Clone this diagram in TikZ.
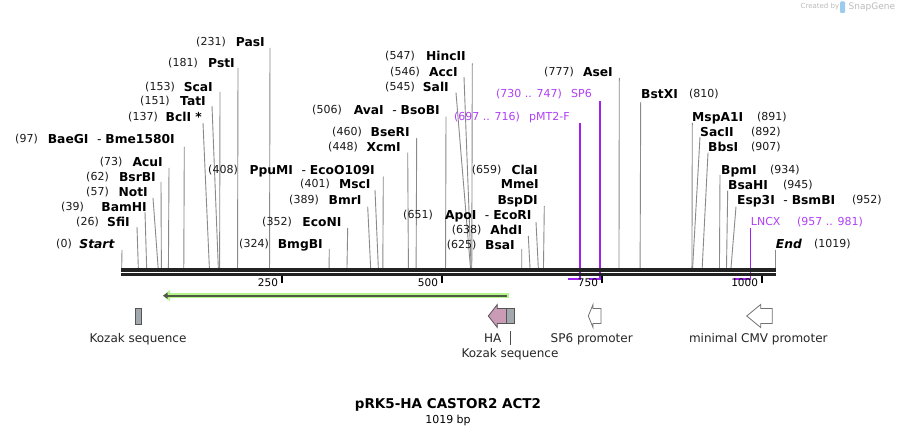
\documentclass[tikz,border=0pt]{standalone}
\usepackage{fontspec}
\setmainfont{DejaVu Sans}
\usetikzlibrary{arrows.meta}
\definecolor{cutc}{HTML}{8A8A8A}
\definecolor{primc}{HTML}{A020F0}
\definecolor{primt}{HTML}{B040F5}
\definecolor{glowc}{HTML}{B4F58C}
\definecolor{darkl}{HTML}{4E5A46}
\definecolor{hac}{HTML}{C99BB5}
\definecolor{kzc}{HTML}{A3A8AE}
\definecolor{outc}{HTML}{555555}
\definecolor{barc}{HTML}{222222}
\definecolor{logoc}{HTML}{BBBBBB}
\definecolor{logob}{HTML}{9CCBF0}
% left-hand site: id, y, num east x, num, name east x, name, top x, top y, bp
\newcommand\siteL[9]{%
  \node[num,anchor=east] (#1n) at (#3,#2) {#4};
  \node[enz,anchor=east] (#1e) at (#5,#2) {#6};
  \coordinate (#1t) at (#7,#8);
  \coordinate (#1b) at ({121.7+0.64*#9},268.3);
  \draw[cutln] (#1t) -- (#1b);}
% right-hand site: id, y, name west x, name, num west x, num, top x, top y, bp
\newcommand\siteR[9]{%
  \node[enz,anchor=west] (#1e) at (#3,#2) {#4};
  \node[num,anchor=west] (#1n) at (#5,#2) {#6};
  \coordinate (#1t) at (#7,#8);
  \coordinate (#1b) at ({121.7+0.64*#9},268.3);
  \draw[cutln] (#1t) -- (#1b);}
\newcommand\dsh{\hspace{8.5pt}{\mdseries -}\hspace{4pt}}
\begin{document}
\begin{tikzpicture}[x=1pt,y=-1pt,
  num/.style={font=\fontsize{11}{13}\selectfont, text=black!90, inner sep=0pt, text height=8pt, text depth=0pt},
  enz/.style={num, font=\fontsize{12.3}{14}\selectfont\bfseries, text=black, text height=8.9pt},
  ptext/.style={num, text=primt},
  cutln/.style={draw=cutc, line width=0.9pt},
  prim/.style={draw=primc, line width=1.7pt},
  featlbl/.style={font=\fontsize{12}{14}\selectfont, text=black!85, inner sep=0pt, text height=8.7pt, text depth=0pt},
  ticklbl/.style={font=\fontsize{10.5}{12}\selectfont, inner sep=0pt, text height=7.6pt, text depth=0pt, anchor=east},
  tickm/.style={draw=black, line width=1.8pt},
  fwd/.style={draw=outc, line width=0.8pt}]
\fill[white] (0,0) rectangle (898,435);
\useasboundingbox (0,0) rectangle (898,435);

% logo
\node[font=\fontsize{7}{8}\selectfont, text=logoc, inner sep=0pt, anchor=west] (cb) at (800.5,7) {Created by};
\fill[logob, rounded corners=1pt] (840,1.5) rectangle (845,13);
\node[font=\fontsize{9}{10}\selectfont, text=logoc, inner sep=0pt, anchor=west] (sg) at (848.5,7) {SnapGene};

% primers (drawn under the bar)
\node[ptext,anchor=west] (p1n) at (454,117) {(697 .. 716)};
\node[ptext,anchor=west] (p1e) at (529,117) {pMT2-F};
\coordinate (p1t) at (580.3,123); \coordinate (p1c) at (580.3,278.7); \coordinate (p1s) at (567.8,278.7);
\draw[prim] (p1t) -- (p1c) -- (p1s);
\node[ptext,anchor=west] (p2n) at (496,94) {(730 .. 747)};
\node[ptext,anchor=west] (p2e) at (571,94) {SP6};
\coordinate (p2t) at (600.3,101.5); \coordinate (p2c) at (600.3,278.7); \coordinate (p2s) at (588.9,278.7);
\draw[prim] (p2t) -- (p2c) -- (p2s);
\node[ptext,anchor=west] (p3e) at (750.7,222) {LNCX};
\node[ptext,anchor=west] (p3n) at (797,222) {(957 .. 981)};
\coordinate (p3t) at (750.5,228); \coordinate (p3c) at (750.5,278.7); \coordinate (p3s) at (734.2,278.7);
\draw[prim] (p3t) -- (p3c) -- (p3s);

% sites, left-hand labels
\siteL{st}{244}{72}{(0)}{115}{\textit{Start}}{122}{250}{0}
\siteL{sfi}{222}{99}{(26)}{130}{SfiI}{137}{227}{26}
\siteL{bam}{207}{84}{(39)}{147}{BamHI}{145}{212}{39}
\siteL{nti}{192}{109}{(57)}{148}{NotI}{153}{198}{57}
\siteL{bsrb}{177}{109}{(62)}{156}{BsrBI}{161}{182}{62}
\siteL{acu}{162}{122.7}{(73)}{163}{AcuI}{169}{168}{73}
\siteL{bae}{139}{38}{(97)}{175}{BaeGI\dsh Bme1580I}{184.3}{147}{97}
\siteL{bcl}{117}{158}{(137)}{202}{BclI *}{203}{123}{137}
\siteL{tat}{101}{170}{(151)}{206}{TatI}{212}{106}{151}
\siteL{sca}{87}{175}{(153)}{213}{ScaI}{220}{92}{153}
\siteL{pst}{63}{198}{(181)}{235}{PstI}{238}{68}{181}
\siteL{pas}{42}{226}{(231)}{265}{PasI}{270}{48}{231}
\siteL{bmgb}{244}{269}{(324)}{323}{BmgBI}{329.3}{249}{324}
\siteL{econ}{222}{292}{(352)}{341.7}{EcoNI}{347.7}{228}{352}
\siteL{bmr}{200}{319}{(389)}{361.7}{BmrI}{367.7}{206.7}{389}
\siteL{msc}{184}{330}{(401)}{370.7}{MscI}{375}{190}{401}
\siteL{ppu}{170}{238}{(408)}{375}{PpuMI\dsh EcoO109I}{383.3}{176.7}{408}
\siteL{xcm}{147}{358}{(448)}{401}{XcmI}{407.7}{152.7}{448}
\siteL{bser}{132}{362}{(460)}{410}{BseRI}{416.7}{138}{460}
\siteL{ava}{110}{342}{(506)}{440}{AvaI\dsh BsoBI}{446}{116.7}{506}
\siteL{sal}{87}{415}{(545)}{449}{SalI}{456}{92.7}{545}
\siteL{acc}{72}{420}{(546)}{458}{AccI}{464}{77}{546}
\siteL{hinc}{56}{415}{(547)}{466}{HincII}{472.3}{63.3}{547}
\siteL{bsa}{245}{476.7}{(625)}{515}{BsaI}{521.7}{249}{625}
\siteL{ahd}{230}{481.7}{(638)}{522.3}{AhdI}{528.3}{236}{638}
\siteL{apo}{215}{433}{(651)}{531.7}{ApoI\dsh EcoRI}{536}{222}{651}
\siteL{cla}{170}{501.7}{(659)}{538}{ClaI}{544.3}{206}{659}
\node[enz,anchor=east] (mme) at (539,184) {MmeI};
\node[enz,anchor=east] (bspd) at (538,200) {BspDI};
\siteL{ase}{72}{574}{(777)}{613}{AseI}{619.3}{78}{777}

% sites, right-hand labels
\siteR{bstx}{94}{641}{BstXI}{689}{(810)}{640.7}{102}{810}
\siteR{mspa}{117}{692}{MspA1I}{757}{(891)}{692.3}{123}{891}
\siteR{sac}{132}{700}{SacII}{751}{(892)}{700}{137}{892}
\siteR{bbs}{147}{708}{BbsI}{751}{(907)}{708}{152.7}{907}
\siteR{bpm}{170}{721}{BpmI}{770}{(934)}{720}{175}{934}
\siteR{bsah}{185}{728}{BsaHI}{783}{(945)}{727.7}{190.7}{945}
\siteR{esp}{200}{737}{Esp3I\dsh BsmBI}{852}{(952)}{736}{206.7}{952}
\siteR{endp}{244}{775.7}{\textit{End}}{814}{(1019)}{775.5}{250}{1021.5}

% sequence bar
\coordinate (b0) at (121,270); \coordinate (b1) at (776,270);
\coordinate (c0) at (121,274.7); \coordinate (c1) at (776,274.7);
\draw[barc, line width=3.3pt] (b0) -- (b1);
\draw[barc, line width=2.7pt] (c0) -- (c1);

% ticks
\foreach \t/\v in {281.7/250, 441.7/500, 601.7/750, 761.7/1000}{
  \coordinate (tk\v a) at (\t,276); \coordinate (tk\v b) at (\t,283);
  \draw[tickm] (tk\v a) -- (tk\v b);
  \node[ticklbl] (tl\v) at (\t-3.5,283) {\v};
}

% CASTOR2 ORF arrow (green glow)
\coordinate (ga) at (508.5,295.7); \coordinate (gb) at (163,295.7);
\draw[glowc, line width=5pt, -{Triangle[length=7pt,width=11pt]}] (ga) -- (gb);
\draw[darkl, line width=2.2pt, -{Triangle[length=4.5pt,width=6pt]}] (506.5,295.7) -- (gb);

% Kozak (left)
\draw[fwd, fill=kzc] (135,308.3) rectangle (141.7,324.3);
\node[featlbl] (kz1) at (138,338) {Kozak sequence};

% HA + Kozak (right)
\draw[fwd, fill=hac] (488.3,316) -- (497.3,304.5) -- (497.3,308.5) -- (506.7,308.5)
  -- (506.7,323.5) -- (497.3,323.5) -- (497.3,327.5) -- cycle;
\draw[fwd, fill=kzc] (506.7,308.5) rectangle (514.3,323.5);
\node[featlbl] (ha) at (492.7,338) {HA};
\node[featlbl] (kz2) at (510,353) {Kozak sequence};
\coordinate (kz2t) at (510.5,331);
\draw[draw=black!70, line width=0.7pt] (kz2t) -- (510.5,345.5);

% SP6 promoter
\draw[draw=black!55, fill=white, line width=0.8pt] (588.3,316) -- (593,304.5) -- (593,308.5) -- (601,308.5)
  -- (601,323.5) -- (593,323.5) -- (593,327.5) -- cycle;
\node[featlbl] (sp6p) at (591.7,338) {SP6 promoter};

% minimal CMV promoter
\draw[draw=black!55, fill=white, line width=0.8pt] (746.7,316) -- (760.7,304.5) -- (760.7,308.5) -- (772.3,308.5)
  -- (772.3,323.5) -- (760.7,323.5) -- (760.7,327.5) -- cycle;
\node[featlbl] (cmvp) at (758.3,338) {minimal CMV promoter};

% title
\node[font=\fontsize{13.5}{15}\selectfont\bfseries, inner sep=0pt] (title) at (448,405) {pRK5-HA CASTOR2 ACT2};
\node[font=\fontsize{11}{13}\selectfont, inner sep=0pt] (len) at (448,420) {1019 bp};
\end{tikzpicture}
\end{document}
